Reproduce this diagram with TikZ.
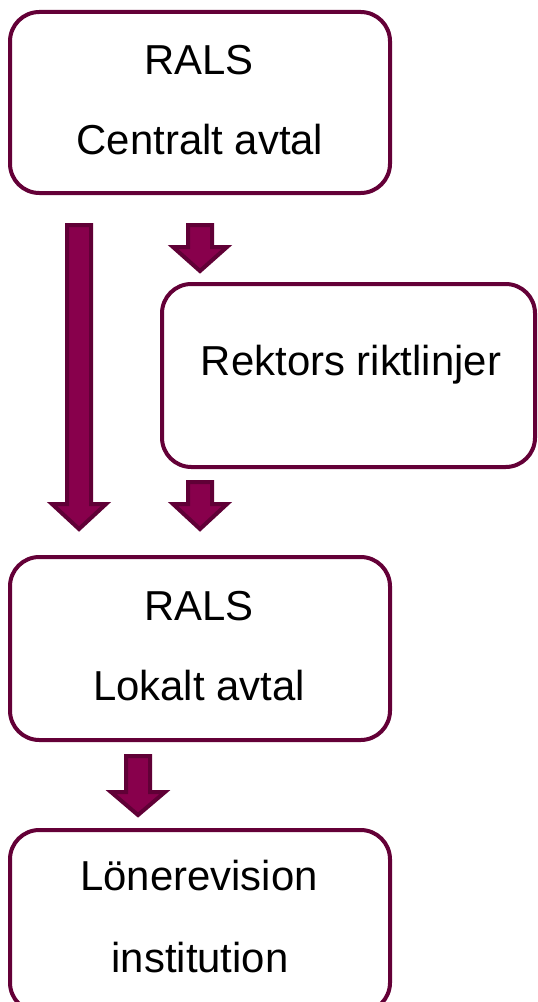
\documentclass[tikz,border=0pt]{standalone}
\usepackage{fontspec}
\setmainfont{Liberation Sans}
\definecolor{boxline}{RGB}{100,0,55}
\definecolor{arrfill}{RGB}{136,0,76}
\definecolor{arrline}{RGB}{96,0,54}
\newcommand{\myarrow}[6]{% name, center x, top y, head start y, tip y, half shaft
  \draw[blockarrow] (#2-#6,#3) -- (#2+#6,#3) -- (#2+#6,#4) -- (#2+27,#4)
    -- (#2,#5) -- (#2-27,#4) -- (#2-#6,#4) -- cycle;
  \coordinate (#1) at (#2,#5);}
\begin{document}
\begin{tikzpicture}[x=0.75pt,y=-0.75pt,
  box/.style={draw=boxline,line width=3pt,rounded corners=22pt,fill=white,inner sep=0pt},
  lbl/.style={anchor=base,font=\fontsize{31.4}{38}\selectfont,text=black,inner sep=0pt},
  blockarrow/.style={fill=arrfill,draw=arrline,line width=3pt,line join=miter}]
\useasboundingbox (0,0) rectangle (537,1002);
\clip (0,0) rectangle (537,1002);
\fill[white] (0,0) rectangle (537,1002);
% boxes
\node[box,minimum width=285pt,minimum height=135.75pt] (central) at (200,102.5) {};
\node[box,minimum width=279.75pt,minimum height=137.25pt] (rektor) at (348.5,375.5) {};
\node[box,minimum width=285pt,minimum height=137.25pt] (lokalt) at (200,648.5) {};
\node[box,minimum width=285pt,minimum height=136.5pt] (revision) at (200,921) {};
% texts
\node[lbl] (t1) at (199,75) {RALS};
\node[lbl] (t2) at (200,155) {Centralt avtal};
\node[lbl] (t3) at (351,375) {Rektors riktlinjer};
\node[lbl] (t4) at (199,620) {RALS};
\node[lbl] (t5) at (199,700) {Lokalt avtal};
\node[lbl] (t6) at (199,890) {Lönerevision};
\node[lbl] (t7) at (200,972) {institution};
% block arrows
\myarrow{a1}{79}{225}{504}{529}{12}
\myarrow{a2}{200}{225}{247}{271}{12}
\myarrow{a3}{200}{482}{504}{529}{12}
\myarrow{a4}{138}{756}{792}{815}{12}
\end{tikzpicture}
\end{document}
